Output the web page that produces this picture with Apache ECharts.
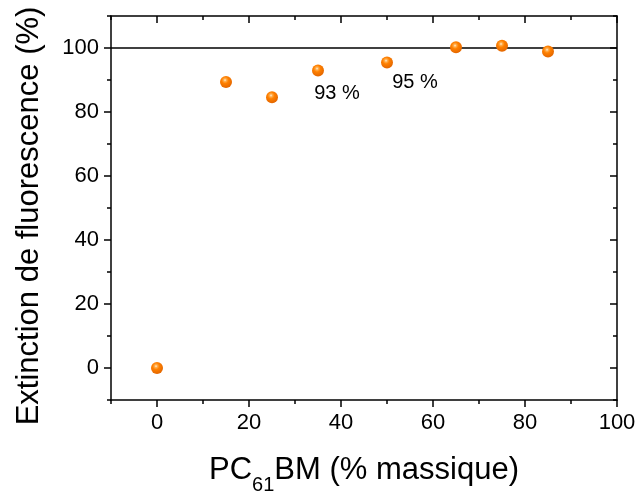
<!DOCTYPE html>
<html>
<head>
<meta charset="utf-8">
<script src="https://cdn.jsdelivr.net/npm/echarts@6/dist/echarts.min.js"></script>
<style>
html,body{margin:0;padding:0;background:#fff;}
#chart{width:639px;height:495px;}
</style>
</head>
<body>
<div id="chart"></div>
<script>
// Data
const xValues = [0, 15, 25, 35, 50, 65, 75, 85];
const yValues = [0, 89.4, 84.6, 93.0, 95.5, 100.2, 100.7, 98.9];
const annotations = {35: '93 %', 50: '95 %'};
const xMajorTicks = [0, 20, 40, 60, 80, 100];
const yMajorTicks = [0, 20, 40, 60, 80, 100];
const referenceLine = 100;

const FONT = 'Liberation Sans, Arial, sans-serif';
const chart = echarts.init(document.getElementById('chart'), null, {renderer: 'canvas'});

const sphere = {
  type: 'radial', x: 0.42, y: 0.35, r: 0.62,
  colorStops: [
    {offset: 0, color: '#FFF0DC'},
    {offset: 0.18, color: '#FFB050'},
    {offset: 0.45, color: '#FF8000'},
    {offset: 1, color: '#E56800'}
  ]
};

const data = xValues.map((x, i) => {
  const d = {value: [x, yValues[i]]};
  if (annotations[x]) {
    d.label = {
      show: true,
      formatter: annotations[x],
      position: 'bottom',
      offset: x === 35 ? [19, 2] : [28, -1],
      color: '#000',
      fontSize: 20,
      fontFamily: FONT
    };
  }
  return d;
});

const lineStyle = {color: '#000', width: 1.5};
const xBase = {type: 'value', min: -10, max: 100, splitLine: {show: false}};
const yBase = {type: 'value', min: -10, max: 110, splitLine: {show: false}};

chart.setOption({
  animation: false,
  backgroundColor: '#fff',
  grid: {left: 111, right: 22, top: 16, bottom: 95, containLabel: false, outerBoundsMode: 'none'},
  xAxis: [
    Object.assign({}, xBase, {
      position: 'bottom', interval: 10,
      axisLine: {show: true, onZero: false, lineStyle},
      axisTick: {show: true, length: 4, lineStyle},
      axisLabel: {
        formatter: v => (v % 20 === 0 && v >= 0) ? String(v) : '',
        color: '#000', fontSize: 22, fontFamily: FONT, margin: 12
      },
      name: '{a|PC}{b|61}{a|BM (% massique)}',
      nameLocation: 'middle', nameGap: 52,
      nameTextStyle: {
        color: '#000', fontFamily: FONT,
        rich: {
          a: {fontSize: 31, color: '#000', fontFamily: FONT, lineHeight: 36},
          b: {fontSize: 20, color: '#000', fontFamily: FONT, lineHeight: 36, padding: [30, 0, 0, 0]}
        }
      }
    }),
    Object.assign({}, xBase, {
      position: 'bottom',
      axisLine: {show: false, onZero: false},
      axisTick: {show: true, length: 7, lineStyle, customValues: xMajorTicks},
      axisLabel: {show: false}
    }),
    Object.assign({}, xBase, {
      position: 'top', interval: 10,
      axisLine: {show: true, onZero: false, lineStyle},
      axisTick: {show: true, inside: true, length: 4, lineStyle},
      axisLabel: {show: false}
    }),
    Object.assign({}, xBase, {
      position: 'top',
      axisLine: {show: false, onZero: false},
      axisTick: {show: true, inside: true, length: 7, lineStyle, customValues: xMajorTicks},
      axisLabel: {show: false}
    })
  ],
  yAxis: [
    Object.assign({}, yBase, {
      position: 'left', interval: 10,
      axisLine: {show: true, onZero: false, lineStyle},
      axisTick: {show: true, length: 4, lineStyle},
      axisLabel: {
        formatter: v => (v % 20 === 0 && v >= 0 && v <= 100) ? String(v) : '',
        color: '#000', fontSize: 22, fontFamily: FONT, margin: 12
      },
      name: 'Extinction de fluorescence (%)',
      nameLocation: 'middle', nameGap: 66, nameRotate: 90,
      nameTextStyle: {color: '#000', fontSize: 31, fontFamily: FONT, padding: [0, 16, 0, 0]}
    }),
    Object.assign({}, yBase, {
      position: 'left',
      axisLine: {show: false, onZero: false},
      axisTick: {show: true, length: 7, lineStyle, customValues: yMajorTicks},
      axisLabel: {show: false}
    }),
    Object.assign({}, yBase, {
      position: 'right', interval: 10,
      axisLine: {show: true, onZero: false, lineStyle},
      axisTick: {show: true, inside: true, length: 4, lineStyle},
      axisLabel: {show: false}
    }),
    Object.assign({}, yBase, {
      position: 'right',
      axisLine: {show: false, onZero: false},
      axisTick: {show: true, inside: true, length: 7, lineStyle, customValues: yMajorTicks},
      axisLabel: {show: false}
    })
  ],
  series: [{
    type: 'scatter',
    xAxisIndex: 0, yAxisIndex: 0,
    symbol: 'circle', symbolSize: 12,
    itemStyle: {color: sphere, opacity: 1},
    data: data,
    markLine: {
      silent: true, symbol: 'none',
      label: {show: false},
      lineStyle: {color: '#000', width: 1.5, type: 'solid'},
      data: [{yAxis: referenceLine}]
    },
    z: 5
  }]
});
</script>
</body>
</html>
